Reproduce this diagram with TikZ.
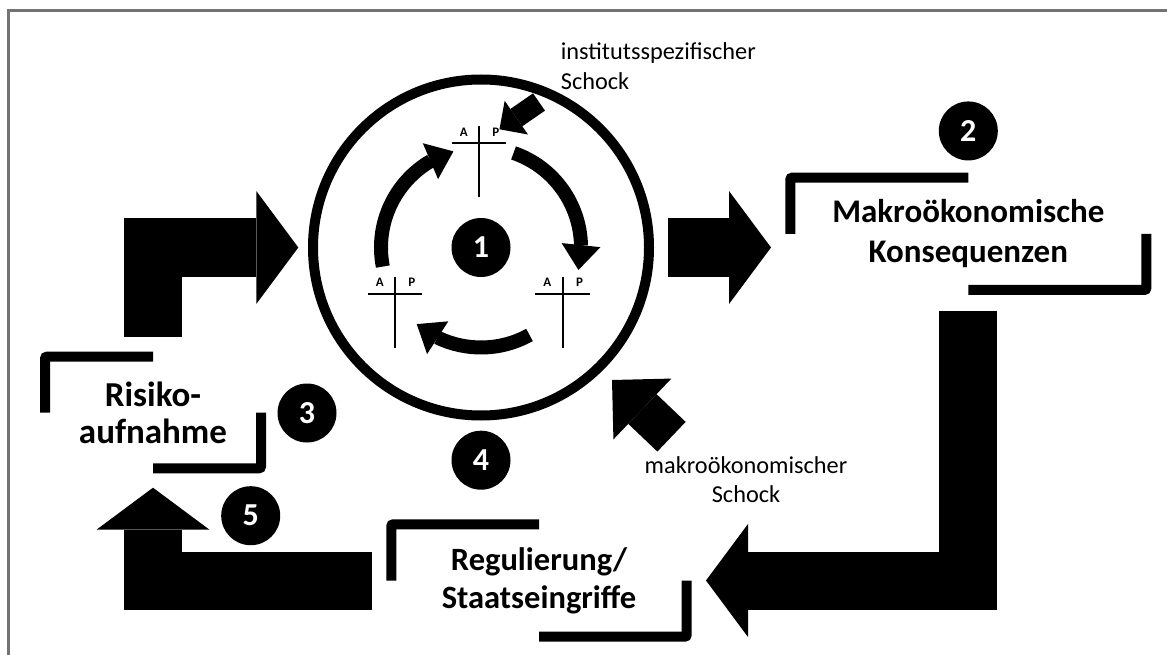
\documentclass[tikz,border=0pt]{standalone}
\usepackage{fontspec}
\setmainfont{Carlito}
\usetikzlibrary{arrows.meta, bending, positioning}

\begin{document}
\begin{tikzpicture}
            [
            x=1pt, y=-1pt,
            frame/.style={
                draw=black!55,
                line width=2.5pt
            },
            labelbox/.style={
                align=center,
                inner sep=0,
                outer sep=0,
                font=\bfseries\fontsize{33}{40}\selectfont
            },
            bracket/.style={
                line width=10pt,
                rounded corners=2pt
            },
            badge/.style={
                circle,
                fill=black,
                text=white,
                inner sep=0,
                minimum size=59pt,
                font=\bfseries\fontsize{32}{32}\selectfont
            },
            account/.style={
                line width=2pt
            },
            aplabel/.style={
                inner sep=0,
                font=\bfseries\fontsize{13}{13}\selectfont
            },
            shocktext/.style={
                inner sep=0,
                font=\fontsize{24.3}{29.5}\selectfont
            },
            fatarrow/.style={
                line width=58pt,
                -{Triangle[width=113pt, length=42pt, line width=0pt]}
            },
            ringarrow/.style={
                line width=14pt,
                -{Triangle[width=39pt, length=25pt, line width=0pt]}
            },
            shockarrow/.style={
                -{Triangle[width=#1*2pt, length=#1*1pt, line width=0pt]}
            }
            ]
            \useasboundingbox (0,0) rectangle (1167,655);
            % Rahmen oben und links
            \draw[frame] (8.5,655) |- (1167,10.5);

            % Bankenkreis mit den drei Bilanzen
            \node (ring) [circle, draw, line width=10pt, minimum size=336pt, inner sep=0] at (481,247.5) {};
            \node (n1) [badge] at (481,247.5) {1};
            \foreach \n/\x/\y in {top/479/143.3, left/395/294, right/562.7/294}{
                \draw[account] (\x-27.5,\y) -- (\x+27,\y);
                \draw[account] (\x,\y-17.5) -- (\x,\y+53.5);
                \node (\n-A) [aplabel] at (\x-15.3,\y-11.5) {A};
                \node (\n-P) [aplabel] at (\x+16.8,\y-11.5) {P};
            }
            \draw[ringarrow] ([shift={(191:100pt)}]ring.center) arc[start angle=191, end angle=106, radius=100pt];
            \draw[ringarrow] ([shift={(71:100pt)}]ring.center) arc[start angle=71, end angle=-13, radius=100pt];
            \draw[ringarrow] ([shift={(-61:100pt)}]ring.center) arc[start angle=-61, end angle=-130, radius=100pt];

            % Kaesten mit Klammern
            \node (macro) [labelbox, minimum width=356pt, minimum height=112.3pt] at (968.3,233.8) {Makroökonomische\\Konsequenzen};
            \node (risk) [labelbox, font=\bfseries\fontsize{35}{37}\selectfont, minimum width=216pt, minimum height=111.6pt] at (153,412.5) {Risiko-\\aufnahme};
            \node (regul) [labelbox, font=\bfseries\fontsize{32.5}{38.3}\selectfont, minimum width=295.4pt, minimum height=112.4pt] at (539,580.5) {Regulierung/\\Staatseingriffe};
            \foreach \b in {macro, risk, regul}{
                \draw[bracket] (\b.west) |- (\b.north);
                \draw[bracket] (\b.east) |- (\b.south);
            }

            % Nummern
            \node (n2) [badge, above=17pt of macro] {2};
            \node (n3) [badge] at (307,413) {3};
            \node (n4) [badge, below=10pt of ring] {4};
            \node (n5) [badge] at (250.7,515.7) {5};

            % Schocks
            \node (instshock) [shocktext, align=left, anchor=north west] at (560.7,42.5) {institutsspezifischer\\Schock};
            \node (macroshock) [shocktext, align=center, anchor=north] at (746,456) {makroökonomischer\\Schock};
            \coordinate (inst-tail) at (539,102);
            \coordinate (macro-tail) at (671.5,436.7);
            \coordinate (macro-tip) at (612,380);
            \draw[shockarrow=20.5, line width=21pt] (inst-tail) -- ([xshift=9.3pt, yshift=4.7pt]top-P);
            \draw[shockarrow=42, line width=41pt] (macro-tail) -- (macro-tip);

            % Kreislauf der Blockpfeile
            \draw[fatarrow] ([yshift=19.4pt]risk.north) |- ([xshift=-9.7pt]ring.west);
            \draw[fatarrow] ([xshift=13.7pt]ring.east) -- ([xshift=-19.3pt]macro.west |- ring.east);
            \draw[fatarrow] ([yshift=-20.7pt]macro.south) |- ([xshift=19.3pt]regul.east);
            \draw[fatarrow] ([xshift=-19pt]regul.west) -| ([yshift=-19.4pt]risk.south);

        \end{tikzpicture}
\end{document}
